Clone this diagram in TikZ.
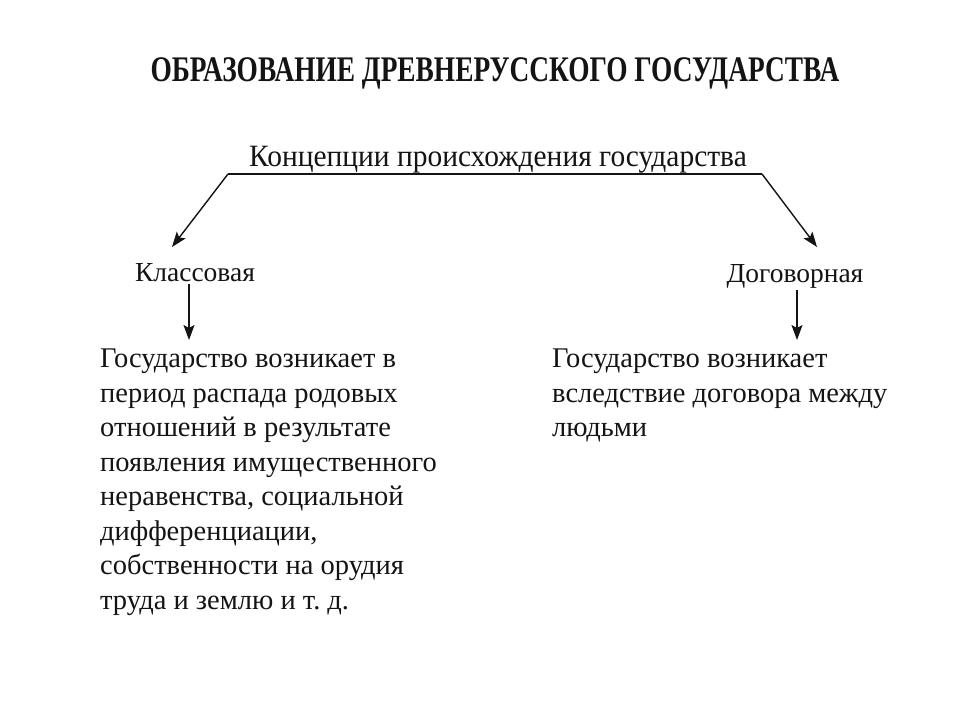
\documentclass[tikz,border=0pt]{standalone}
\usepackage{fontspec}
\setmainfont{Liberation Serif}
\newfontfamily\narrowfont[FakeStretch=0.76]{Liberation Serif}
\newfontfamily\schmalfont[FakeStretch=0.95]{Liberation Serif}
\usetikzlibrary{arrows.meta}
\usetikzlibrary{positioning}
\definecolor{schrift}{RGB}{20,20,20}

\begin{document}
\begin{tikzpicture}[x=1pt, y=-1pt, schrift,
    pfeil/.style={line width=1.4pt, -{Stealth[length=15pt,width=11pt,inset=3pt]}},
    kopf/.style={font=\narrowfont\bfseries\fontsize{36}{40}\selectfont},
    zweig/.style={font=\fontsize{27.5}{32}\selectfont, inner sep=2pt},
    textblock/.style={font=\fontsize{28.5}{34.5}\selectfont, align=left, anchor=north west, inner sep=0pt}]

    \useasboundingbox[fill=white] (0,0) rectangle (960,720);

        \node[kopf] (titel) at (495,73) {ОБРАЗОВАНИЕ ДРЕВНЕРУССКОГО ГОСУДАРСТВА};
        \node[font=\schmalfont\fontsize{31}{36}\selectfont] (konzept) at (498,160) {Концепции происхождения государства};

        \node[zweig] (klasse) at (195,273) {Классовая};
        \node[zweig] (vertrag) at (795,276) {Договорная};

        \node[textblock] (linkstext) at (100,349) {Государство возникает в\\период распада родовых\\отношений в результате\\появления имущественного\\неравенства, социальной\\дифференциации,\\собственности на орудия\\труда и землю и т.\ д.};
        \node[textblock] (rechtstext) at (552,349) {Государство возникает\\вследствие договора между\\людьми};

        % Klammer unter dem Oberbegriff
        \coordinate (lecke) at (228,174);
        \coordinate (recke) at (762,174);
        \coordinate (lspitze) at (172,247);
        \coordinate (rspitze) at (817,247);
        \draw[line width=1.4pt] (lecke) -- (recke);
        \draw[pfeil] (lecke) -- (lspitze);
        \draw[pfeil] (recke) -- (rspitze);

        \draw[pfeil] ([xshift=-6pt]klasse.south) -- ([xshift=-6pt,yshift=9pt]klasse.south |- linkstext.north);
        \draw[pfeil] ([xshift=2pt]vertrag.south) -- ([xshift=2pt,yshift=9pt]vertrag.south |- rechtstext.north);

\end{tikzpicture}
\end{document}
